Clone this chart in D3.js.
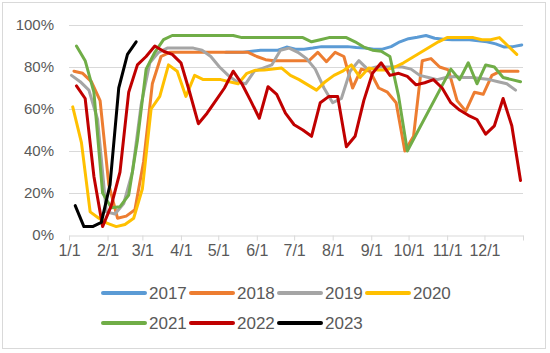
<!DOCTYPE html>
<html>
<head>
<meta charset="utf-8">
<script src="https://cdn.jsdelivr.net/npm/d3@7"></script>
<style>
  body { margin: 0; background: #fff; }
  svg { display: block; font-family: 'Liberation Sans', Arial, sans-serif; }
</style>
</head>
<body>
<svg id="chart" width="550" height="353"></svg>
<script>
// weekly rate (%) per year, first point sits at startDays[i] days after 1/1
const years = ['2017', '2018', '2019', '2020', '2021', '2022', '2023'];
const colors = ['#5B9BD5', '#ED7D31', '#A5A5A5', '#FFC000', '#70AD47', '#C00000', '#000000'];
const startDays = [126, 4, 2, 3, 6, 6, 5];

const rate2017 = [87, 87, 87, 87.5, 88, 88, 88, 89.5, 88.5, 88.5, 89, 89.7, 89.7, 89.7, 89.7, 89.3, 89, 88.5,
  88.5, 89.7, 92, 93.5, 94.2, 95, 93.7, 93.2, 93, 93, 93, 92.5, 92, 91, 89.5, 89.7, 90.5];
const rate2018 = [78, 77, 73, 64, 24, 8, 9, 12, 35, 72, 85, 87, 87, 87, 87, 87, 87, 87, 87, 87, 87, 85, 83.5,
  83, 83, 83, 83, 83, 87, 82.5, 87, 85, 70, 79, 78, 70, 68, 63, 40, 47, 83, 84, 80, 78.6, 64, 59, 68, 67, 76,
  78, 78, 78];
const rate2019 = [76, 73, 69, 55, 11, 10, 15, 30, 62, 82, 87, 89, 89, 89, 89, 88, 85, 80, 76, 73, 72, 78, 79.5,
  81, 88, 89, 87, 84, 79, 70, 63, 65, 78, 83, 79, 80, 80, 80, 80, 79, 76, 75, 74, 75, 75.5, 75, 75, 74.5, 74,
  73, 72, 69];
const rate2020 = [61, 44, 11, 8, 5.5, 4, 5, 8, 22, 60, 66, 81, 78, 66, 76, 74, 74, 74, 73, 72, 77, 78.5, 78.6,
  79, 79.5, 76, 74, 71.5, 69, 73, 76, 78, 81, 75, 79.5, 78.6, 78.6, 80, 82, 84.5, 87, 89.5, 92, 94, 94, 94, 94,
  93, 93, 94, 90, 86];
const rate2021 = [90, 83, 68, 20, 13, 13.5, 19, 45, 79, 87, 93, 95, 95, 95, 95, 95, 95, 95, 95, 94, 94, 94, 94,
  94, 94, 94, 94, 92, 93, 94, 94, 94, 92, 89.5, 88, 87.5, 85, 66, 40, null, null, null, null, 79, 74, 82, 72,
  81, 80, 75, 74, 73];
const rate2022 = [71, 65, 28, 4, 14, 30, 68, 81, 85, 90, 87.5, 86, 82, 68, 53, 58, 64, 70, 78, 72, 64, 55.6,
  70.6, 67, 58, 52.5, 50, 47, 63, 66, 66, 42, 47, 64, 77, 82, 76, 77, 75.5, 71.5, 72.5, 74, 70, 63, 59.5, 57,
  55, 48, 52, 65, 52, 26];
const rate2023 = [14, 4, 4, 6, 24, 70, 86, 92];

const rates = [rate2017, rate2018, rate2019, rate2020, rate2021, rate2022, rate2023];
const yTicks = [0, 20, 40, 60, 80, 100];
const monthLabels = ['1/1', '2/1', '3/1', '4/1', '5/1', '6/1', '7/1', '8/1', '9/1', '10/1', '11/1', '12/1'];

const margin = { top: 25, right: 27, bottom: 118, left: 69 };
const width = 550;
const height = 353;
const yearStart = new Date(2023, 0, 1);
const yearEnd = new Date(2024, 0, 1);

const svg = d3.select('#chart');

svg.append('rect')
  .attr('x', 2.5)
  .attr('y', 2.5)
  .attr('width', 543)
  .attr('height', 346)
  .attr('fill', '#fff')
  .attr('stroke', '#d9d9d9');

const x = d3.scaleTime()
  .domain([yearStart, yearEnd])
  .range([margin.left, width - margin.right]);

const y = d3.scaleLinear()
  .domain([0, 100])
  .range([height - margin.bottom, margin.top]);

// gridlines
svg.append('g')
  .selectAll('line')
  .data(yTicks.slice(1))
  .join('line')
  .attr('x1', margin.left)
  .attr('x2', width - margin.right)
  .attr('y1', (d) => Math.round(y(d)) + 0.5)
  .attr('y2', (d) => Math.round(y(d)) + 0.5)
  .attr('stroke', '#d9d9d9');

const yAxis = (g) => {
  g.attr('transform', `translate(${margin.left - 15},0)`)
    .call(d3.axisLeft(y).tickValues(yTicks).tickFormat((d) => `${d}%`).tickSize(0))
    .call((g) => g.select('.domain').remove())
    .call((g) => g.selectAll('text')
      .attr('fill', '#595959')
      .attr('font-size', 15)
      .attr('x', 0));
};

const xAxis = (g) => {
  g.attr('transform', `translate(0,${Math.round(y(0)) + 0.5})`)
    .call(d3.axisBottom(x)
      .tickValues(d3.timeMonths(yearStart, new Date(2024, 0, 2)))
      .tickFormat((d, i) => monthLabels[i] || '')
      .tickSize(5)
      .tickSizeOuter(0))
    .call((g) => g.select('.domain').attr('stroke', '#d9d9d9'))
    .call((g) => g.selectAll('.tick line').attr('stroke', '#d9d9d9'))
    .call((g) => g.selectAll('.tick text')
      .attr('fill', '#595959')
      .attr('font-size', 16)
      .attr('y', 9));
};

svg.append('g').call(yAxis);
svg.append('g').call(xAxis);

const line = d3.line()
  .x((d) => x(d.date))
  .y((d) => y(d.value));

const series = years.map((year, i) => ({
  year,
  color: colors[i],
  points: rates[i]
    .map((value, k) => ({ date: d3.timeDay.offset(yearStart, startDays[i] + 7 * k), value }))
    .filter((d) => d.value !== null), // gaps get joined like the source chart does
}));

svg.append('g')
  .selectAll('path')
  .data(series)
  .join('path')
  .attr('d', (d) => line(d.points))
  .attr('fill', 'none')
  .attr('stroke', (d) => d.color)
  .attr('stroke-width', 3)
  .attr('stroke-linejoin', 'round')
  .attr('stroke-linecap', 'round');

// legend, four per row
const legend = svg.append('g')
  .selectAll('g')
  .data(series)
  .join('g')
  .attr('transform', (d, i) => `translate(${103 + (i % 4) * 88},${293 + Math.floor(i / 4) * 30})`);

legend.append('line')
  .attr('x1', 0)
  .attr('x2', 42)
  .attr('stroke', (d) => d.color)
  .attr('stroke-width', 4)
  .attr('stroke-linecap', 'round');

legend.append('text')
  .attr('x', 46)
  .attr('dy', '0.35em')
  .attr('fill', '#595959')
  .attr('font-size', 17)
  .text((d) => d.year);
</script>
</body>
</html>
